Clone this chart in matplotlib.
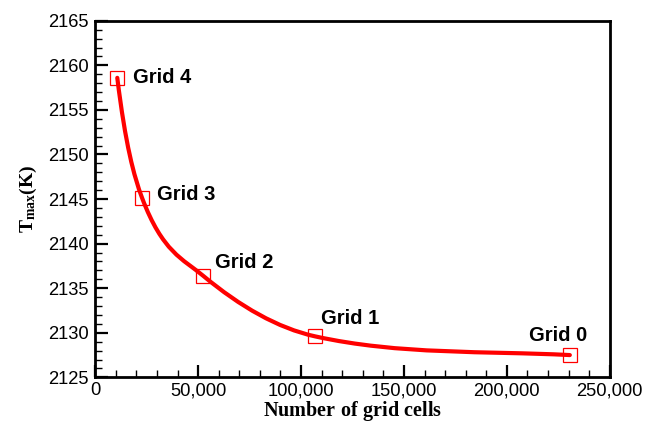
import matplotlib as mpl
import matplotlib.pyplot as plt
import numpy as np
from matplotlib.path import Path
from matplotlib.patches import PathPatch
from matplotlib.ticker import MultipleLocator, FuncFormatter

# data
grid_names = ["Grid 4", "Grid 3", "Grid 2", "Grid 1", "Grid 0"]
n_cells = [10700, 22800, 52400, 106800, 230600]
t_max = [2158.6, 2145.1, 2136.4, 2129.6, 2127.5]

RED = "#FF0000"

mpl.rcParams.update({
    "font.family": ["Liberation Sans", "DejaVu Sans"],
    "mathtext.fontset": "custom",
    "mathtext.rm": "Liberation Serif:bold",
    "mathtext.bf": "Liberation Serif:bold",
    "mathtext.it": "Liberation Serif:bold",
})


def smooth_path(x, y):
    """smooth curve through the points: tangents taken in log(x),
    limited like Fritsch-Carlson, drawn as cubic bezier segments"""
    x = np.asarray(x, float)
    y = np.asarray(y, float)
    lx = np.log(x)
    n = len(x)
    g = np.zeros(n)  # dy/dlnx
    g[0] = (-3 * y[0] + 4 * y[1] - y[2]) / (lx[2] - lx[0])
    g[-1] = (y[-1] - y[-2]) / (lx[-1] - lx[-2])
    for i in range(1, n - 1):
        g[i] = (y[i + 1] - y[i - 1]) / (lx[i + 1] - lx[i - 1])
    m = g / x
    h = np.diff(x)
    d = np.diff(y) / h
    for i in range(n - 1):
        for j in (i, i + 1):
            if m[j] / d[i] > 3:
                m[j] = 3 * d[i]
    verts = [(x[0], y[0])]
    codes = [Path.MOVETO]
    for i in range(n - 1):
        verts += [(x[i] + h[i] / 3, y[i] + m[i] * h[i] / 3),
                  (x[i + 1] - h[i] / 3, y[i + 1] - m[i + 1] * h[i] / 3),
                  (x[i + 1], y[i + 1])]
        codes += [Path.CURVE4] * 3
    return Path(verts, codes)


fig = plt.figure(figsize=(6.48, 4.24), dpi=100)
ax = fig.add_axes([0.147, 0.11, 0.794, 0.841])

ax.add_patch(PathPatch(smooth_path(n_cells, t_max), facecolor="none",
                       edgecolor=RED, linewidth=3.0, capstyle="round",
                       zorder=3))
ax.plot(n_cells, t_max, linestyle="none", marker="s", markersize=9.5,
        markerfacecolor="none", markeredgecolor=RED, markeredgewidth=0.9,
        zorder=4)

offsets = [(16, 0), (15, 4), (12, 13), (6, 18), (-41, 20)]
for name, xv, yv, off in zip(grid_names, n_cells, t_max, offsets):
    ax.annotate(name, (xv, yv), xytext=off, textcoords="offset pixels",
                ha="left", va="center", fontsize=14.5, fontweight="bold")

ax.set_xlim(0, 250000)
ax.set_ylim(2125, 2165)
ax.xaxis.set_major_locator(MultipleLocator(50000))
ax.xaxis.set_minor_locator(MultipleLocator(10000))
ax.yaxis.set_major_locator(MultipleLocator(5))
ax.yaxis.set_minor_locator(MultipleLocator(1))
ax.xaxis.set_major_formatter(FuncFormatter(lambda v, p: f"{int(v):,}"))
ax.yaxis.set_major_formatter(FuncFormatter(lambda v, p: f"{int(v)}"))

for s in ax.spines.values():
    s.set_linewidth(2.0)
ax.tick_params(which="both", direction="in", top=False, right=False,
               labelsize=13.2)
ax.tick_params(which="major", length=9, width=1.6, pad=3.5)
ax.tick_params(which="minor", length=5, width=1.0)
ax.tick_params(axis="y", which="major", pad=5)

ax.set_xlabel(r"$\mathbf{Number\ of\ grid\ cells}$", fontsize=14.5,
              labelpad=0)
ax.set_ylabel(r"$\mathbf{T_{max}(K)}$", fontsize=14, labelpad=6)

fig.savefig("out.png", dpi=100)
